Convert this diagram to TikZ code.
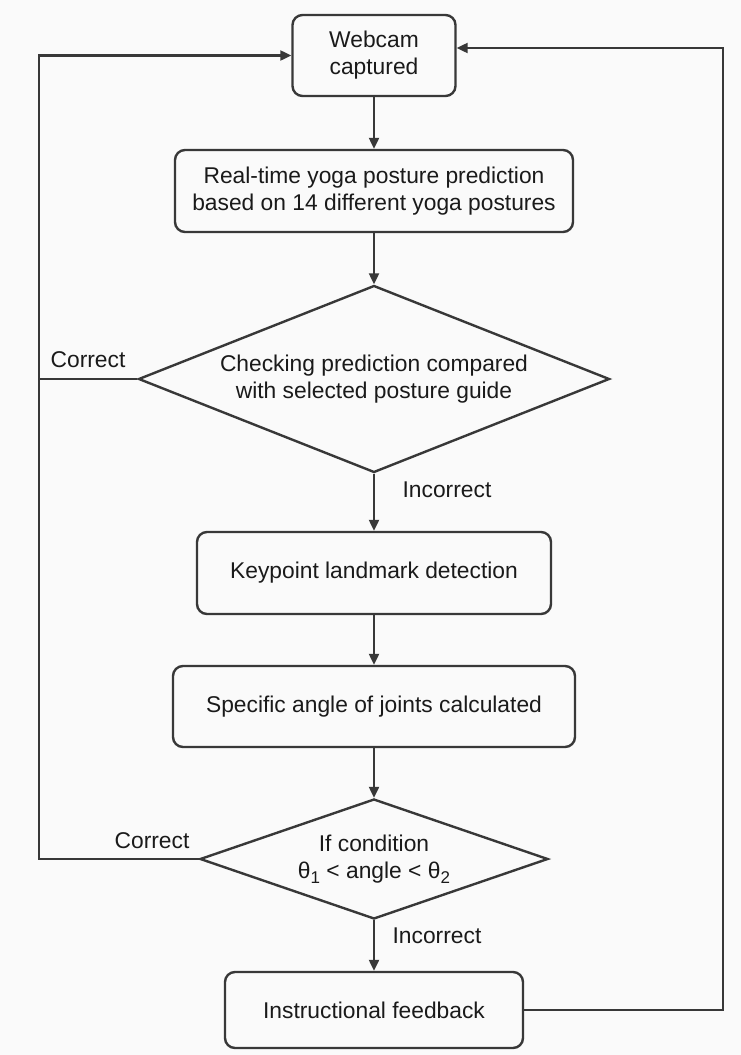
\documentclass[tikz,border=0pt]{standalone}
\usepackage{fontspec}
\setmainfont{Liberation Sans}
\usetikzlibrary{shapes.geometric,arrows.meta}
\definecolor{linec}{HTML}{383838}
\definecolor{txtc}{HTML}{1A1A1A}
\definecolor{bgc}{HTML}{FAFAFA}
\begin{document}
\begin{tikzpicture}[x=1pt,y=-1pt,
  every node/.style={text=txtc,font=\fontsize{22.8}{27}\selectfont},
  box/.style={draw=linec,line width=2.4pt,rounded corners=10pt,align=center,inner sep=0pt},
  decision/.style={draw=linec,line width=2.4pt,diamond,align=center,inner sep=0pt},
  arr/.style={draw=linec,line width=2.2pt,-{Triangle[length=11pt,width=10pt]}},
  ln/.style={draw=linec,line width=2.2pt},
  lbl/.style={inner sep=0pt}]
\fill[bgc] (0,0) rectangle (741,1055);
\useasboundingbox (0,0) rectangle (741,1055);
\node[box,minimum width=163pt,minimum height=81pt] (web) at (374,55.5) {Webcam\\captured};
\node[box,minimum width=398pt,minimum height=82pt] (pred) at (374,191) {Real-time yoga posture prediction\\based on 14 different yoga postures};
\node[decision,aspect=2.52,minimum width=471pt,minimum height=187pt] (d1) at (374,379) {Checking prediction compared\\with selected posture guide};
\node[box,minimum width=354pt,minimum height=82pt] (key) at (374,573) {Keypoint landmark detection};
\node[box,minimum width=402pt,minimum height=81pt] (ang) at (374,706.5) {Specific angle of joints calculated};
\node[decision,aspect=2.9,minimum width=348pt,minimum height=120pt] (d2) at (374,859) {If condition\\θ\raisebox{-5pt}{\fontsize{17}{17}\selectfont 1} < angle < θ\raisebox{-5pt}{\fontsize{17}{17}\selectfont 2}};
\node[box,minimum width=298pt,minimum height=76pt] (fb) at (374,1010) {Instructional feedback};
\node[lbl] (c1) at (88,360) {Correct};
\node[lbl] (c2) at (152,841) {Correct};
\node[lbl] (i1) at (447,490) {Incorrect};
\node[lbl] (i2) at (437,936) {Incorrect};
\coordinate (lt) at (39,55.5);
\coordinate (lm) at (39,859);
\coordinate (rt) at (723,48);
\draw[arr] (web) -- (pred);
\draw[arr] (pred) -- (d1);
\draw[arr] (d1) -- (key);
\draw[arr] (key) -- (ang);
\draw[arr] (ang) -- (d2);
\draw[arr] (d2) -- (fb);
\draw[arr] (d1.west) -| (lt) -- (web.west);
\draw[ln] (d2.west) -- (lm) -- (39,379);
\draw[arr] (fb.east) -| (rt) -- ([yshift=7.5pt]web.east);
\end{tikzpicture}
\end{document}
